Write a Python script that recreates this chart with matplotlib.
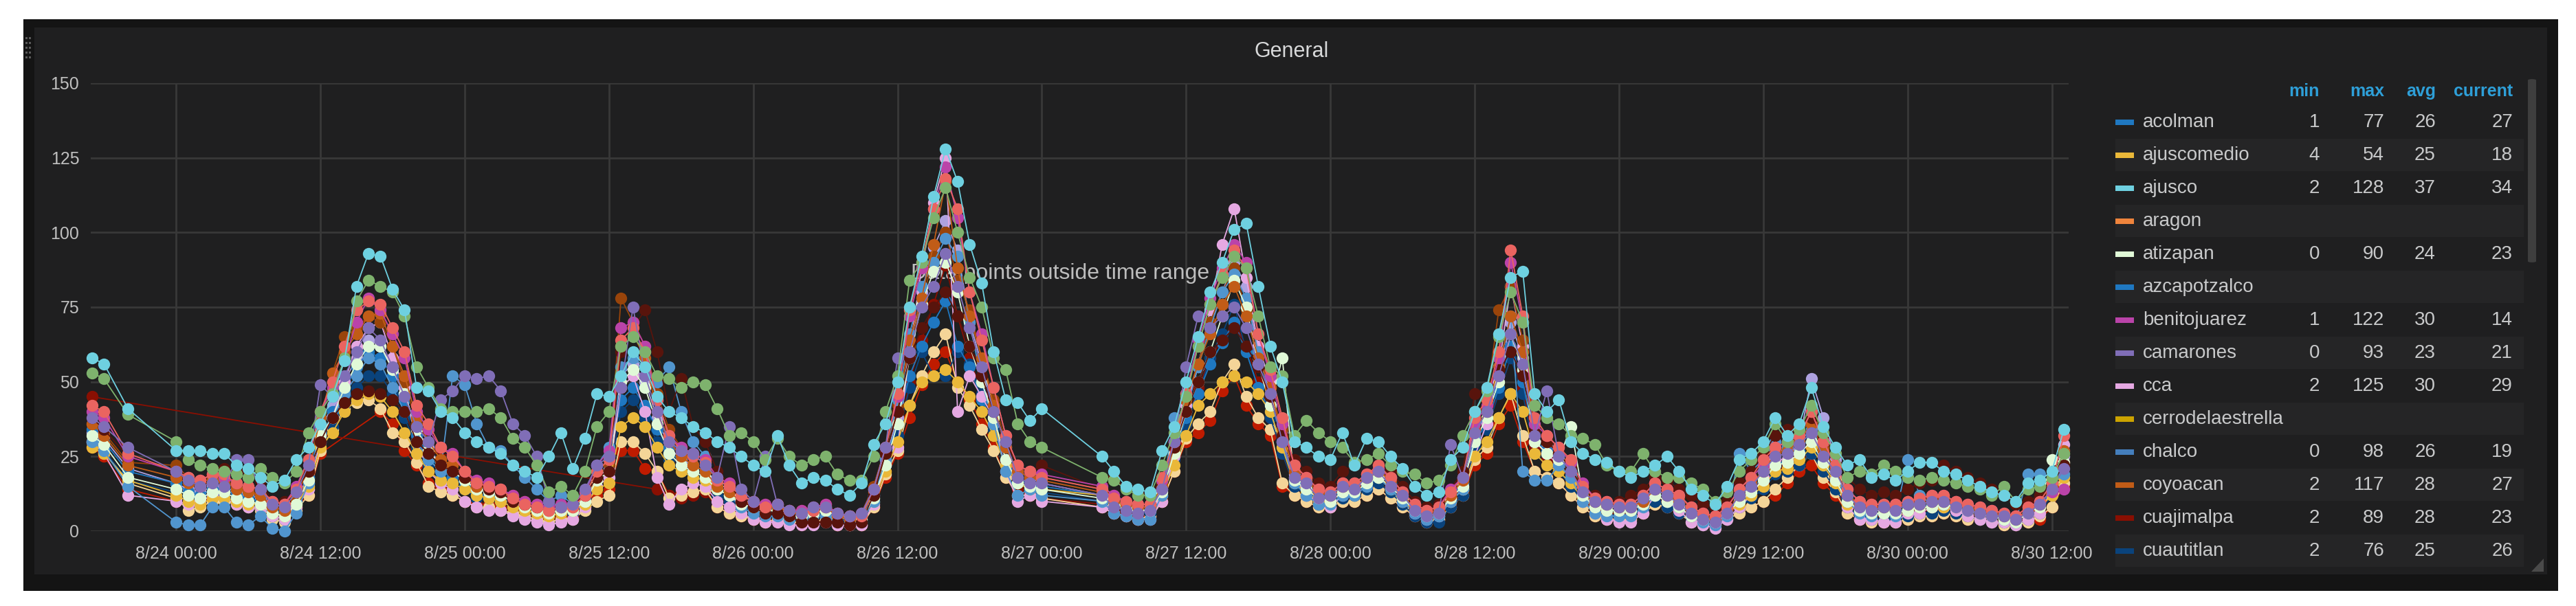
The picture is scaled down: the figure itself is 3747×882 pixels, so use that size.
import matplotlib
matplotlib.use('Agg')
import matplotlib.pyplot as plt
import matplotlib.dates as mdates
from matplotlib.patches import Rectangle, FancyBboxPatch, Polygon
import pandas as pd

plt.rcParams['font.family'] = ['Liberation Sans', 'DejaVu Sans']

# hourly samples, starting 8/23 17:00 (gaps 21:00-23:00 and 8/27 01:00-04:00)
start = pd.Timestamp('2017-08-23 17:00')
hours = [0, 1, 3] + list(range(7, 80)) + list(range(84, 165))

ajusco = [58, 56, 41, 27, 27, 27, 26, 26, 22, 21,
          18, 15, 17, 24, 28, 36, 45, 57, 82, 93,
          92, 81, 74, 48, 47, 40, 38, 33, 30, 28,
          26, 22, 20, 18, 25, 33, 21, 31, 46, 45,
          52, 60, 55, 45, 40, 38, 35, 33, 30, 28,
          25, 22, 20, 32, 22, 16, 18, 17, 14, 12,
          16, 29, 36, 50, 75, 92, 112, 128, 117, 96,
          83, 60, 44, 43, 37, 41, 25, 20, 15, 14,
          13, 27, 35, 50, 65, 80, 90, 101, 103, 82,
          62, 50, 30, 28, 25, 24, 33, 22, 31, 30,
          25, 21, 15, 12, 13, 24, 28, 40, 48, 66,
          85, 87, 46, 40, 44, 30, 26, 24, 23, 20,
          18, 20, 22, 25, 20, 14, 12, 9, 15, 24,
          26, 30, 38, 32, 36, 48, 35, 28, 22, 24,
          18, 19, 17, 20, 23, 23, 20, 19, 17, 15,
          13, 12, 10, 16, 17, 20, 34]

green = [53, 51, 39, 30, 24, 22, 21, 20, 19, 18,
         21, 18, 16, 20, 33, 40, 46, 58, 77, 84,
         82, 80, 72, 55, 48, 41, 40, 40, 40, 41,
         38, 31, 28, 22, 13, 15, 12, 20, 35, 40,
         62, 65, 60, 52, 51, 48, 50, 49, 41, 32,
         33, 30, 24, 31, 25, 22, 24, 25, 19, 17,
         17, 25, 40, 52, 84, 90, 105, 115, 100, 85,
         75, 58, 54, 36, 30, 28, 18, 17, 14, 12,
         12, 22, 33, 45, 62, 76, 85, 92, 88, 72,
         55, 52, 32, 37, 33, 30, 28, 23, 24, 26,
         22, 20, 19, 16, 17, 22, 32, 40, 47, 65,
         80, 70, 42, 38, 36, 32, 31, 29, 22, 20,
         20, 26, 20, 18, 18, 16, 14, 10, 13, 20,
         24, 28, 36, 30, 34, 42, 33, 26, 18, 20,
         19, 22, 20, 18, 17, 18, 17, 16, 15, 14,
         12, 15, 10, 14, 15, 18, 26]

camarones = [38, 35, 28, 20, 17, 15, 16, 15, 24, 24,
             14, 9, 8, 13, 22, 49, 45, 52, 60, 68,
             64, 55, 45, 35, 30, 44, 47, 52, 51, 52,
             47, 36, 32, 25, 10, 8, 9, 14, 22, 25,
             48, 75, 52, 40, 30, 27, 26, 22, 18, 35,
             14, 10, 25, 9, 7, 6, 8, 8, 6, 5,
             6, 14, 28, 58, 60, 75, 82, 93, 82, 68,
             55, 40, 30, 18, 16, 16, 12, 8, 7, 6,
             7, 14, 30, 55, 72, 68, 72, 75, 68, 56,
             46, 30, 18, 16, 11, 12, 15, 14, 18, 20,
             15, 12, 7, 5, 6, 29, 18, 33, 40, 52,
             66, 56, 32, 47, 25, 20, 13, 10, 9, 8,
             8, 11, 14, 12, 9, 6, 4, 3, 6, 12,
             15, 20, 25, 26, 29, 33, 25, 20, 12, 8,
             7, 8, 7, 9, 9, 10, 10, 8, 7, 6,
             5, 5, 4, 6, 9, 14, 21]

cca = [30, 26, 12, 10, 9, 10, 12, 11, 9, 8,
       8, 5, 4, 8, 14, 30, 38, 50, 62, 68,
       70, 58, 48, 30, 20, 16, 14, 10, 8, 7,
       7, 5, 4, 3, 2, 3, 4, 8, 15, 18,
       48, 52, 40, 18, 9, 14, 16, 15, 10, 8,
       6, 4, 3, 3, 2, 2, 2, 3, 2, 2,
       2, 9, 22, 28, 60, 88, 110, 125, 40, 52,
       45, 38, 20, 10, 12, 10, 8, 6, 5, 4,
       4, 10, 25, 42, 55, 74, 96, 108, 85, 62,
       50, 30, 18, 12, 10, 8, 12, 14, 17, 22,
       18, 10, 6, 4, 5, 10, 14, 25, 36, 55,
       82, 62, 30, 26, 22, 18, 10, 6, 4, 3,
       3, 6, 12, 10, 7, 3, 2, 1, 4, 8,
       12, 18, 24, 24, 30, 36, 28, 18, 8, 4,
       4, 3, 3, 6, 6, 8, 8, 7, 5, 4,
       3, 3, 2, 4, 6, 14, 29]

coyoacan = [36, 32, 22, 18, 16, 15, 17, 17, 14, 13,
            12, 8, 7, 13, 20, 38, 53, 60, 66, 72,
            73, 62, 52, 38, 30, 24, 22, 18, 15, 15,
            13, 11, 9, 8, 7, 8, 8, 12, 20, 24,
            62, 66, 58, 40, 30, 25, 22, 20, 15, 13,
            10, 9, 8, 8, 6, 6, 7, 8, 5, 4,
            5, 13, 26, 40, 64, 78, 96, 117, 88, 72,
            58, 42, 28, 20, 18, 17, 13, 10, 9, 8,
            8, 15, 28, 44, 56, 66, 76, 82, 72, 58,
            48, 32, 20, 17, 13, 12, 15, 15, 18, 20,
            17, 12, 8, 6, 7, 12, 17, 34, 40, 55,
            72, 60, 34, 30, 26, 21, 14, 10, 9, 8,
            8, 10, 14, 12, 10, 7, 5, 4, 7, 12,
            16, 20, 26, 27, 30, 36, 27, 21, 12, 9,
            8, 8, 8, 9, 9, 10, 10, 9, 8, 7,
            6, 5, 4, 7, 9, 15, 27]

benitojuarez = [40, 38, 25, 20, 18, 17, 19, 18, 16, 15,
                14, 10, 9, 15, 24, 40, 48, 57, 70, 78,
                74, 66, 58, 40, 34, 28, 26, 20, 17, 16,
                14, 12, 10, 9, 8, 9, 9, 13, 22, 27,
                68, 70, 62, 44, 32, 28, 26, 24, 18, 16,
                12, 10, 9, 9, 7, 7, 8, 9, 6, 5,
                6, 14, 28, 45, 72, 88, 108, 122, 105, 80,
                66, 48, 32, 22, 20, 19, 15, 12, 10, 9,
                9, 17, 30, 46, 64, 78, 88, 96, 90, 66,
                52, 36, 22, 18, 14, 13, 16, 16, 19, 21,
                18, 13, 9, 7, 8, 14, 18, 36, 42, 58,
                90, 70, 36, 32, 28, 23, 16, 11, 10, 9,
                9, 12, 16, 14, 12, 8, 6, 5, 8, 14,
                18, 22, 28, 30, 32, 40, 30, 22, 14, 10,
                9, 9, 9, 10, 11, 12, 12, 10, 9, 8,
                7, 6, 5, 8, 10, 13, 14]

acolman = [34, 30, 20, 16, 13, 12, 14, 14, 12, 11,
           10, 7, 6, 10, 18, 35, 40, 47, 55, 60,
           58, 52, 44, 32, 26, 20, 18, 15, 12, 12,
           11, 9, 8, 7, 6, 7, 8, 11, 18, 22,
           44, 48, 42, 34, 28, 22, 20, 18, 14, 12,
           9, 8, 7, 8, 6, 5, 6, 7, 5, 4,
           5, 12, 24, 36, 52, 62, 70, 77, 62, 55,
           44, 36, 24, 18, 15, 15, 12, 10, 8, 7,
           7, 14, 26, 38, 46, 56, 63, 70, 60, 48,
           40, 28, 17, 14, 12, 11, 14, 14, 17, 19,
           16, 11, 7, 5, 6, 11, 16, 30, 36, 48,
           62, 50, 30, 27, 24, 19, 12, 8, 7, 7,
           7, 10, 13, 11, 9, 6, 4, 3, 6, 11,
           14, 18, 22, 24, 27, 32, 24, 18, 11, 7,
           6, 6, 6, 8, 8, 9, 9, 8, 7, 6,
           5, 4, 3, 6, 8, 14, 27]

chalco = [30, 27, 15, 3, 2, 2, 8, 8, 3, 2,
          5, 1, 0, 6, 16, 33, 38, 46, 52, 58,
          56, 48, 40, 30, 24, 20, 52, 49, 36, 28,
          27, 22, 18, 14, 10, 12, 9, 13, 22, 28,
          55, 58, 55, 50, 55, 40, 30, 25, 16, 12,
          8, 6, 5, 5, 4, 4, 5, 5, 3, 2,
          3, 10, 24, 44, 66, 82, 90, 98, 92, 70,
          50, 36, 20, 12, 14, 12, 10, 6, 5, 4,
          4, 12, 38, 40, 55, 68, 80, 86, 78, 60,
          45, 30, 16, 12, 9, 9, 12, 12, 15, 18,
          14, 10, 6, 4, 5, 10, 14, 32, 40, 55,
          72, 20, 17, 17, 22, 18, 10, 6, 5, 5,
          5, 8, 12, 10, 8, 5, 3, 2, 5, 26,
          20, 24, 30, 28, 30, 34, 26, 20, 10, 6,
          5, 6, 5, 24, 12, 9, 9, 9, 7, 6,
          5, 4, 3, 19, 19, 16, 19]

atizapan = [32, 29, 18, 14, 12, 11, 13, 13, 11, 10,
            9, 6, 5, 9, 17, 32, 38, 48, 56, 62,
            62, 54, 46, 34, 27, 22, 20, 17, 14, 13,
            12, 10, 8, 7, 6, 7, 7, 10, 17, 20,
            50, 54, 48, 36, 26, 22, 20, 18, 14, 12,
            9, 8, 7, 7, 5, 5, 6, 7, 5, 4,
            4, 11, 22, 36, 58, 76, 87, 90, 80, 62,
            50, 38, 24, 16, 15, 14, 11, 9, 8, 7,
            7, 13, 26, 40, 50, 60, 72, 84, 75, 56,
            42, 58, 17, 14, 11, 10, 13, 13, 16, 18,
            15, 11, 7, 5, 6, 11, 15, 30, 38, 50,
            66, 54, 30, 26, 24, 35, 12, 8, 7, 7,
            7, 9, 12, 10, 8, 5, 4, 3, 6, 10,
            13, 17, 22, 23, 26, 30, 23, 17, 10, 7,
            6, 6, 6, 7, 8, 8, 9, 8, 7, 6,
            5, 4, 3, 6, 8, 24, 23]

ajuscomedio = [28, 26, 17, 12, 10, 9, 11, 11, 10, 9,
               9, 6, 5, 9, 15, 28, 33, 40, 44, 46,
               45, 40, 33, 26, 20, 17, 16, 14, 12, 11,
               10, 8, 7, 6, 5, 6, 7, 9, 14, 16,
               35, 38, 35, 28, 22, 20, 18, 17, 14, 12,
               10, 9, 8, 8, 6, 6, 6, 7, 5, 5,
               5, 10, 20, 30, 42, 50, 52, 54, 50, 45,
               40, 32, 22, 16, 14, 14, 12, 10, 8, 8,
               8, 12, 22, 32, 42, 46, 50, 52, 50, 46,
               40, 28, 16, 13, 10, 10, 13, 13, 16, 18,
               14, 10, 7, 5, 6, 10, 14, 25, 30, 38,
               46, 40, 26, 22, 20, 16, 11, 8, 7, 7,
               7, 9, 12, 10, 8, 5, 4, 4, 6, 9,
               12, 15, 20, 21, 24, 28, 22, 16, 9, 7,
               6, 6, 6, 7, 8, 8, 8, 8, 7, 6,
               5, 5, 4, 6, 8, 12, 18]

# cuajimalpa has no samples between 8/23 18:00 and 8/25 16:00
cuajimalpa = ([45] + [None] * 42 +
              [14, 12, 11, 12, 13, 8, 6,
               5, 4, 4, 3, 3, 2, 3, 3, 2, 2,
               2, 8, 20, 30, 50, 64, 76, 89, 72, 58,
               46, 34, 22, 14, 12, 11, 9, 7, 6, 5,
               5, 11, 24, 36, 48, 58, 64, 70, 62, 50,
               38, 26, 15, 12, 9, 9, 11, 12, 14, 16,
               13, 9, 5, 3, 4, 9, 13, 30, 36, 46,
               58, 48, 28, 24, 22, 17, 11, 7, 6, 6,
               6, 8, 11, 9, 7, 4, 3, 2, 5, 9,
               12, 16, 20, 22, 25, 30, 22, 16, 9, 6,
               5, 5, 5, 6, 7, 7, 8, 7, 6, 5,
               4, 3, 2, 5, 7, 12, 23])

cuautitlan = [30, 27, 17, 13, 11, 10, 12, 12, 10, 9,
              8, 5, 4, 8, 16, 30, 35, 42, 48, 52,
              52, 46, 38, 28, 22, 18, 16, 14, 11, 11,
              10, 8, 7, 6, 5, 6, 6, 9, 15, 18,
              40, 44, 38, 30, 24, 20, 18, 16, 12, 10,
              8, 7, 6, 6, 5, 4, 5, 6, 4, 3,
              4, 10, 22, 32, 48, 60, 52, 52, 60, 56,
              46, 34, 22, 16, 14, 13, 10, 8, 7, 6,
              6, 12, 24, 36, 46, 58, 66, 76, 60, 48,
              38, 26, 15, 12, 9, 9, 11, 12, 14, 16,
              13, 9, 5, 3, 3, 8, 12, 28, 34, 46,
              58, 46, 26, 22, 20, 15, 10, 6, 5, 5,
              5, 7, 10, 8, 6, 4, 2, 2, 4, 8,
              11, 14, 19, 20, 22, 26, 20, 14, 8, 5,
              4, 4, 4, 5, 6, 6, 7, 6, 5, 4,
              3, 3, 2, 4, 6, 12, 26]

salmon = [42, 40, 26, 20, 18, 17, 19, 19, 16, 15,
          14, 10, 9, 14, 24, 40, 50, 62, 74, 77,
          76, 68, 60, 42, 36, 28, 25, 20, 16, 15,
          14, 11, 9, 8, 7, 8, 8, 12, 20, 24,
          64, 68, 60, 44, 32, 27, 25, 23, 17, 15,
          12, 10, 8, 9, 7, 6, 7, 8, 6, 5,
          5, 14, 28, 46, 74, 90, 108, 118, 108, 80,
          64, 48, 32, 22, 20, 18, 14, 11, 10, 9,
          9, 18, 30, 46, 62, 76, 86, 94, 88, 66,
          54, 38, 22, 18, 14, 13, 16, 16, 19, 22,
          18, 13, 9, 7, 8, 13, 18, 38, 44, 60,
          94, 72, 38, 32, 28, 24, 15, 11, 10, 9,
          9, 12, 16, 14, 12, 8, 6, 5, 8, 14,
          18, 24, 28, 30, 32, 40, 30, 22, 14, 10,
          9, 9, 9, 10, 11, 12, 12, 10, 9, 8,
          7, 6, 5, 8, 10, 16, 32]

maroon = [38, 34, 25, 20, 17, 16, 21, 21, 20, 20,
          17, 10, 10, 14, 20, 30, 38, 43, 46, 47,
          46, 44, 40, 30, 26, 22, 20, 18, 16, 14,
          13, 10, 9, 8, 8, 9, 9, 12, 18, 20,
          60, 68, 74, 60, 40, 51, 35, 30, 20, 16,
          10, 8, 6, 6, 5, 3, 3, 3, 3, 2,
          3, 12, 26, 40, 58, 68, 75, 80, 72, 62,
          52, 40, 30, 22, 20, 22, 14, 18, 14, 13,
          12, 18, 28, 40, 50, 60, 64, 68, 62, 55,
          45, 32, 24, 20, 16, 15, 20, 22, 24, 22,
          20, 15, 10, 8, 9, 14, 20, 46, 48, 54,
          60, 52, 34, 30, 26, 21, 14, 12, 10, 10,
          12, 14, 18, 17, 14, 12, 9, 8, 10, 16,
          20, 26, 32, 34, 36, 38, 32, 26, 18, 14,
          12, 13, 12, 14, 16, 17, 22, 20, 18, 16,
          14, 12, 9, 10, 12, 16, 22]

brown = [36, 33, 23, 22, 18, 16, 18, 17, 15, 14,
         12, 8, 7, 12, 20, 36, 53, 65, 68, 72,
         70, 62, 50, 36, 30, 24, 22, 19, 16, 15,
         14, 12, 10, 9, 8, 9, 9, 12, 18, 22,
         78, 70, 62, 46, 34, 28, 26, 24, 18, 16,
         12, 10, 9, 9, 7, 7, 8, 9, 6, 5,
         6, 15, 28, 42, 62, 76, 92, 100, 84, 74,
         58, 44, 30, 22, 20, 18, 14, 12, 10, 9,
         9, 16, 30, 44, 56, 70, 80, 88, 74, 60,
         48, 34, 20, 17, 14, 13, 16, 16, 19, 21,
         17, 12, 8, 6, 7, 12, 17, 36, 44, 74,
         82, 64, 34, 30, 26, 22, 14, 10, 9, 9,
         9, 12, 15, 13, 11, 8, 6, 5, 8, 14,
         18, 22, 27, 28, 32, 38, 28, 20, 12, 9,
         8, 8, 8, 9, 10, 11, 11, 10, 8, 7,
         6, 5, 5, 8, 10, 15, 26]

red = [28, 25, 14, 10, 9, 9, 12, 12, 10, 9,
       8, 5, 4, 8, 12, 26, None, None, None, None,
       40, 36, 27, 22, 16, 14, 12, 10, 9, 9,
       8, 7, 6, 5, 4, 5, 5, 8, 12, 14,
       27, 27, 21, 20, 12, 13, 13, 14, 8, 6,
       5, 4, 3, 4, 3, 3, 3, 4, 2, 2,
       2, 8, 18, 26, 38, 49, 56, 60, 50, 44,
       36, 28, 18, 12, 12, 11, 8, 6, 5, 4,
       5, 10, 20, 30, 33, 37, 47, 52, 42, 36,
       32, 15, 12, 10, 8, 8, 10, 10, 12, 14,
       11, 8, 5, 3, 4, 8, 12, 22, 26, 36,
       42, 30, 20, 18, 16, 12, 8, 5, 4, 4,
       4, 6, 9, 8, 6, 4, 2, 2, 4, 6,
       8, 10, 12, 16, 20, 22, 16, 12, 6, 4,
       3, 3, 3, 4, 5, 5, 6, 5, 4, 4,
       3, 2, 2, 3, 4, 8, 15]

lavender = [33, 31, 21, 16, 14, 13, 15, 15, 13, 12,
            11, 7, 6, 11, 18, 34, 42, 50, 58, 64,
            62, 55, 46, 34, 28, 22, 20, 17, 14, 14,
            13, 10, 9, 8, 7, 8, 8, 11, 18, 21,
            52, 56, 50, 38, 28, 24, 22, 20, 16, 14,
            11, 9, 8, 8, 6, 6, 7, 8, 5, 4,
            5, 12, 24, 38, 60, 80, 95, 104, 94, 70,
            56, 42, 28, 20, 18, 16, 12, 10, 9, 8,
            8, 14, 28, 42, 56, 70, 80, 90, 82, 60,
            46, 33, 19, 16, 12, 11, 14, 14, 17, 19,
            16, 11, 7, 5, 6, 11, 16, 32, 40, 52,
            70, 58, 32, 28, 25, 20, 12, 9, 8, 8,
            8, 10, 14, 12, 10, 7, 5, 4, 7, 12,
            15, 20, 26, 28, 30, 51, 38, 24, 12, 8,
            7, 7, 7, 9, 9, 10, 10, 9, 8, 7,
            6, 5, 4, 7, 9, 14, 25]

pale_yellow = [30, 27, 16, 11, 7, 8, 10, 10, 9, 8,
               7, 4, 3, 7, 12, 27, 34, 41, 43, 44,
               41, 33, 30, 23, 15, 13, 12, 10, 8, 8,
               7, 6, 5, 4, 3, 4, 4, 7, 10, 12,
               30, 30, 26, 20, 11, 12, 13, 14, 8, 6,
               5, 4, 3, 4, 3, 3, 3, 4, 2, 2,
               2, 8, 19, 27, 42, 52, 60, 66, 48, 42,
               34, 27, 18, 12, 12, 11, 8, 6, 5, 4,
               5, 10, 20, 31, 36, 40, 50, 56, 45, 38,
               34, 16, 12, 10, 8, 8, 10, 10, 12, 14,
               11, 8, 5, 3, 4, 8, 12, 24, 28, 38,
               46, 32, 20, 18, 16, 12, 8, 5, 4, 4,
               4, 6, 9, 8, 6, 3, 2, 2, 4, 6,
               8, 10, 14, 18, 22, 26, 18, 13, 6, 4,
               3, 3, 3, 4, 5, 5, 6, 5, 4, 4,
               3, 2, 2, 3, 5, 8, 16]

# legend table (first page of the scrolled list)
legend_names = ['acolman', 'ajuscomedio', 'ajusco', 'aragon', 'atizapan', 'azcapotzalco',
                'benitojuarez', 'camarones', 'cca', 'cerrodelaestrella', 'chalco',
                'coyoacan', 'cuajimalpa', 'cuautitlan']
legend_colors = ['#1F78C1', '#EAB839', '#6ED0E0', '#EF843C', '#E0F9D7', '#1F78C1',
                 '#BA43A9', '#806EB7', '#E5A8E2', '#CCA300', '#447EBC',
                 '#C15C17', '#890F02', '#0A437C']
legend_min = ['1', '4', '2', '', '0', '', '1', '0', '2', '', '0', '2', '2', '2']
legend_max = ['77', '54', '128', '', '90', '', '122', '93', '125', '', '98', '117', '89', '76']
legend_avg = ['26', '25', '37', '', '24', '', '30', '23', '30', '', '26', '28', '28', '25']
legend_cur = ['27', '18', '34', '', '23', '', '14', '21', '29', '', '19', '27', '23', '26']

# drawing order: later series sit on top
series = [
    (red, '#BF1B00'), (cuajimalpa, '#890F02'), (pale_yellow, '#F4D598'),
    (cuautitlan, '#0A437C'), (lavender, '#AEA2E0'), (acolman, '#1F78C1'),
    (cca, '#E5A8E2'), (brown, '#99440A'), (ajuscomedio, '#EAB839'),
    (chalco, '#5195CE'), (atizapan, '#E0F9D7'), (coyoacan, '#C15C17'),
    (maroon, '#58140C'), (benitojuarez, '#BA43A9'), (salmon, '#EA6460'),
    (camarones, '#806EB7'), (green, '#7EB26D'), (ajusco, '#6ED0E0'),
]

bad = [len(s) for s, c in series if len(s) != len(hours)]
if bad:
    raise ValueError(f'series lengths {bad} != {len(hours)}')

times = start + pd.to_timedelta(hours, unit='h')

W, H = 3748, 882
fig = plt.figure(figsize=(W / 100, H / 100), dpi=100, facecolor='white')


def rect(x0, y0, x1, y1, color, z=-10):
    fig.add_artist(Rectangle((x0 / W, 1 - y1 / H), (x1 - x0) / W, (y1 - y0) / H,
                             transform=fig.transFigure, facecolor=color,
                             edgecolor='none', zorder=z))


# panel frame
rect(34, 28, 3721, 860, '#141414', -20)
rect(50, 40, 3705, 836, '#1f1f20', -19)

# drag handle dots, top left
for dx in (37, 42):
    for dy in (54, 61, 68, 75, 82):
        rect(dx, dy, dx + 3, dy + 3, '#5a5a5a', -5)

fig.text(1879 / W, 1 - 75 / H, 'General', ha='center', va='center',
         fontsize=22, color='#d8d9da')

ax = fig.add_axes([132 / W, 1 - 773 / H, (3009 - 132) / W, (773 - 121) / H])
ax.set_facecolor('none')
for s in ax.spines.values():
    s.set_visible(False)

for vals, color in series:
    ts = pd.Series(vals, index=times, dtype=float).dropna()
    ax.plot(ts.index, ts.values, '-o', color=color, lw=1.3, ms=12.5, mew=0,
            clip_on=False, zorder=3)

ax.text(0.49, 0.575, 'Data points outside time range', transform=ax.transAxes,
        ha='center', va='center', fontsize=23, color='#bdbdbd', zorder=1)

ax.set_ylim(0, 150)
ax.set_yticks(range(0, 151, 25))
ax.set_xlim(start - pd.Timedelta(minutes=6), start + pd.Timedelta(hours=164.4))
ax.xaxis.set_major_locator(mdates.HourLocator(byhour=[0, 12]))
ax.xaxis.set_major_formatter(mdates.DateFormatter('%-m/%d %H:%M'))
ax.grid(True, color='#383838', lw=2)
ax.set_axisbelow(True)
ax.tick_params(axis='both', length=0, labelsize=18, labelcolor='#bfbfbf')
ax.tick_params(axis='y', pad=12)
ax.tick_params(axis='x', pad=15)

# legend table
name_x, swatch_x0, swatch_x1 = 3117, 3077, 3104
col_x = [3374, 3468, 3543, 3655]
header_y, row0_y, row_h = 133, 178, 48
for label, cx in zip(['min', 'max', 'avg', 'current'], col_x):
    fig.text(cx / W, 1 - header_y / H, label, ha='right', va='center',
             fontsize=18, fontweight='bold', color='#2e9fd8')

for i, name in enumerate(legend_names):
    y = row0_y + i * row_h
    if i % 2 == 1:
        rect(3077, y - 24, 3671, y + 23, '#252526', -15)
    rect(swatch_x0, y - 4, swatch_x1, y + 4, legend_colors[i], -5)
    fig.text(name_x / W, 1 - y / H, name, ha='left', va='center',
             fontsize=20, color='#c8c9ca')
    for vals, cx in zip([legend_min, legend_max, legend_avg, legend_cur], col_x):
        fig.text(cx / W, 1 - y / H, vals[i], ha='right', va='center',
                 fontsize=20, color='#c8c9ca')

# scrollbar and resize corner
fig.add_artist(FancyBboxPatch((3677 / W, 1 - 382 / H), 12 / W, (382 - 115) / H,
                              boxstyle='round,pad=0,rounding_size=0.002',
                              transform=fig.transFigure, facecolor='#3e3e3e',
                              edgecolor='none', zorder=-5))
fig.add_artist(Polygon([(3700 / W, 1 - 813 / H), (3700 / W, 1 - 832 / H),
                        (3682 / W, 1 - 832 / H)], closed=True,
                       transform=fig.transFigure, facecolor='#4a4a4a',
                       edgecolor='none', zorder=-5))

fig.savefig('out.png', dpi=100, facecolor='white')
